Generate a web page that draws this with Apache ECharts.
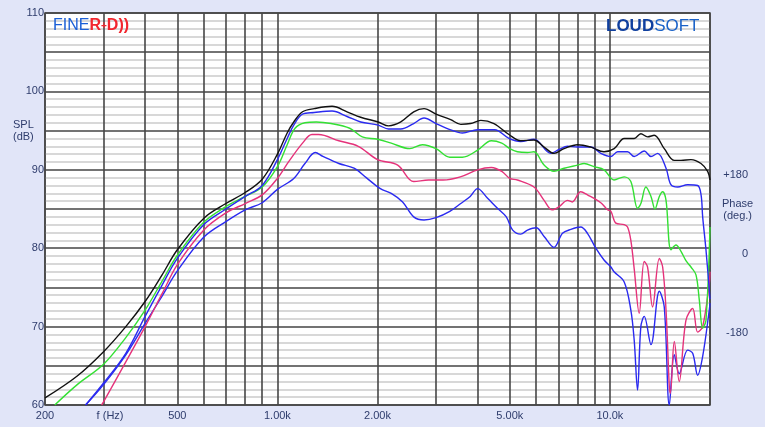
<!DOCTYPE html>
<html>
<head>
<meta charset="utf-8">
<script src="https://cdn.jsdelivr.net/npm/echarts@6/dist/echarts.min.js"></script>
<style>
html,body{margin:0;padding:0;background:#e1e5f8;}
#c{width:765px;height:427px;}
</style>
</head>
<body>
<div id="c"></div>
<script>
// Frequency-axis tick values and labels
const xGridValues = [200,300,400,500,600,700,800,900,1000,2000,3000,4000,5000,6000,7000,8000,9000,10000,20000];
const xLabelValues = [200,300,500,1000,2000,5000,10000];
const xLabelTexts = {200:'200',300:'f (Hz)',500:'500',1000:'1.00k',2000:'2.00k',5000:'5.00k',10000:'10.0k'};
const phaseLabels = {'-180':'-180','0':'0','180':'+180'};

// Series data: [frequency Hz, SPL dB]
const blackCurve = [[200,60.9],[250,63.7],[300,66.8],[350,70.0],[400,73.2],[450,76.6],[500,79.8],[600,83.8],[700,85.7],[800,87.1],[900,88.8],[1000,92.0],[1070,94.7],[1120,96.1],[1190,97.4],[1290,97.8],[1460,98.1],[1620,97.4],[1780,96.7],[2010,96.1],[2160,95.6],[2350,96.1],[2570,97.4],[2760,97.8],[3000,97.1],[3320,96.4],[3560,95.8],[3810,95.9],[4090,96.3],[4480,95.9],[4970,94.5],[5390,93.7],[5910,93.8],[6340,92.9],[6790,92.1],[7280,92.7],[7990,93.2],[8760,92.9],[9600,92.3],[10300,92.7],[11040,94.0],[11830,94.0],[12390,94.6],[12980,94.2],[13590,94.4],[14570,92.7],[15620,91.2],[16360,91.2],[17530,91.3],[18790,90.8],[19680,89.8],[20000,88.7]];

const blueUpper = [[265,60],[300,62.8],[350,66.6],[400,71.3],[450,75.3],[500,78.7],[600,83.0],[700,85.0],[800,86.6],[900,88.0],[1000,91.3],[1070,94.0],[1120,95.7],[1190,97.1],[1290,97.3],[1460,97.5],[1620,96.8],[1780,96.1],[2010,95.7],[2160,95.2],[2350,95.2],[2570,95.9],[2760,96.6],[3000,95.9],[3320,95.1],[3600,94.7],[4000,95.1],[4500,95.1],[4970,94.0],[5390,93.6],[5910,93.9],[6640,92.1],[7030,92.6],[7460,93.0],[7990,92.9],[8760,92.9],[9390,92.1],[10070,91.7],[10550,92.3],[11300,92.3],[11830,91.7],[12680,92.4],[13290,91.7],[13920,92.1],[14750,90.2],[15260,88.1],[15990,87.8],[17130,88.1],[18360,88.0],[18800,86.8],[19010,84.0],[19450,79.8],[19900,74.7],[20000,73.5]];

const greenCurve = [[214,60],[250,62.6],[300,65.2],[350,68.6],[400,72.1],[450,75.8],[500,79.1],[600,83.3],[700,85.3],[800,86.6],[900,87.8],[1000,90.4],[1070,93.2],[1130,95.3],[1210,96.0],[1310,96.1],[1450,95.9],[1650,95.3],[1800,94.2],[2000,93.9],[2200,93.4],[2500,92.7],[2730,93.2],[3000,92.7],[3300,91.6],[3600,91.6],[4000,92.5],[4400,93.7],[4730,93.4],[5000,92.7],[5270,92.3],[5650,92.2],[5910,92.3],[6340,90.6],[6790,89.8],[7280,90.2],[7990,90.6],[8360,90.8],[8960,90.4],[9600,90.0],[10290,88.7],[11040,89.1],[11560,88.5],[12110,85.1],[12390,85.7],[12830,87.8],[13290,86.6],[13660,85.0],[14080,86.6],[14410,87.2],[14750,86.1],[15260,79.8],[15800,80.4],[16360,79.6],[16930,78.4],[17530,77.6],[18150,76.6],[18570,73.4],[19010,69.8],[19450,70.8],[20000,82.7]];

const pinkCurve = [[296,60],[300,60.4],[350,65.5],[400,70.0],[450,74.2],[500,77.9],[600,82.3],[700,84.5],[800,85.7],[900,86.8],[1000,88.9],[1080,91.0],[1190,93.4],[1270,94.5],[1330,94.5],[1530,93.7],[1750,93.0],[2000,91.3],[2300,90.6],[2570,88.5],[2850,88.7],[3150,88.7],[3550,89.1],[4000,90.0],[4400,90.3],[4730,89.8],[5000,88.9],[5270,88.7],[5910,87.8],[6340,86.1],[6700,84.9],[7030,85.3],[7460,86.1],[7700,85.9],[8170,87.2],[8560,86.8],[9390,85.8],[9840,84.9],[10070,84.7],[10420,83.2],[11040,83.0],[11300,82.7],[11560,81.0],[11830,77.4],[12250,71.7],[12680,78.3],[12980,77.6],[13440,72.5],[14080,78.7],[14410,77.6],[14750,72.1],[15090,62.3],[15200,61.5],[15620,68.1],[16160,63.0],[16930,70.8],[17740,72.3],[18360,69.3],[19010,70.0],[19900,75.5],[20000,77.0]];

const blueLower = [[265,60],[300,62.6],[350,66.4],[400,70.4],[450,73.9],[500,77.1],[600,81.4],[700,83.4],[800,84.9],[900,85.8],[1000,87.5],[1120,88.9],[1210,90.8],[1300,92.2],[1370,91.7],[1530,90.8],[1700,90.2],[1850,89.0],[2040,87.6],[2200,87.0],[2380,85.9],[2570,84.0],[2760,83.6],[3000,83.9],[3300,84.7],[3560,85.7],[3800,86.6],[4000,87.6],[4280,86.4],[4590,85.1],[4880,84.0],[5100,82.3],[5390,81.8],[5650,82.3],[6000,82.6],[6340,81.5],[6790,80.1],[7200,81.9],[7630,82.4],[8170,82.7],[8560,81.9],[9070,80.0],[9600,78.5],[10070,77.6],[10290,77.0],[11040,75.7],[11560,72.1],[11830,68.3],[12110,61.9],[12390,70.0],[12680,71.3],[13290,67.7],[14080,74.5],[14570,72.5],[15090,60.0],[15620,66.4],[16160,64.0],[17130,67.0],[17740,66.6],[18360,63.8],[19010,66.2],[19900,72.1],[20000,73.0]];

const chart = echarts.init(document.getElementById('c'), null, {renderer:'canvas'});
const lblColor = '#2e3c6c';
const font = 'Liberation Sans, Arial, sans-serif';
function line(name, data, color){
  return {name, type:'line', data, showSymbol:false, smooth:0.35, xAxisIndex:0, yAxisIndex:0,
    lineStyle:{color, width:1.4}, emphasis:{disabled:true}, animation:false};
}
chart.setOption({
  backgroundColor:'#e1e5f8',
  animation:false,
  grid:{left:45, right:55, top:13, bottom:22, show:true, backgroundColor:'#ffffff', borderColor:'#444', borderWidth:1.5},
  xAxis:{type:'log', logBase:10, min:200, max:20000,
    axisLine:{show:false},
    axisTick:{show:false, customValues:xGridValues},
    splitLine:{show:true, lineStyle:{color:'#474747', width:1.6}},
    axisLabel:{customValues:xLabelValues, color:lblColor, fontSize:11, fontFamily:font, margin:5,
      formatter:v=>{const r=Math.round(v); return r===300?'{f|f (Hz)}':(xLabelTexts[r]||'');},
      rich:{f:{color:lblColor, fontSize:11, fontFamily:font, padding:[0,0,0,13]}}}
  },
  yAxis:[{type:'value', min:60, max:110, interval:5,
    axisLine:{show:false}, axisTick:{show:false},
    splitLine:{show:true, lineStyle:{color:'#454545', width:1.6}},
    minorTick:{show:false, splitNumber:5},
    minorSplitLine:{show:true, lineStyle:{color:'#cbcbcb', width:1.5}},
    axisLabel:{color:lblColor, fontSize:11, fontFamily:font, margin:1,
      formatter:v=>(v%10===0?String(v):'')}
  },{type:'value', position:'right', min:-344, max:548, interval:4,
    axisLine:{show:false}, axisTick:{show:false}, splitLine:{show:false},
    axisLabel:{color:lblColor, fontSize:11, fontFamily:font, margin:38, align:'right',
      formatter:v=>(phaseLabels[String(Math.round(v))]||'')}
  }],
  graphic:[
    {type:'text', left:13, top:119, style:{text:'SPL\n(dB)', fill:lblColor, font:'11px '+font, textAlign:'center', lineHeight:12}},
    {type:'text', left:722, top:198, style:{text:'Phase\n(deg.)', fill:lblColor, font:'11px '+font, textAlign:'center', lineHeight:12}},
    {type:'text', left:53, top:18, z:100, style:{text:'{a|FINE}{b|R}{c|+}{b|D))}', rich:{
      a:{fill:'#1b5fd6', fontSize:16, fontFamily:font},
      b:{fill:'#f2262e', fontSize:16, fontFamily:font, fontWeight:'bold'},
      c:{fill:'#f2262e', fontSize:10, fontFamily:font, fontWeight:'bold'}}}},
    {type:'text', left:606, top:18, z:100, style:{text:'{a|LOUD}{b|SOFT}', rich:{
      a:{fill:'#0f3f9e', fontSize:17, fontFamily:font, fontWeight:'bold'},
      b:{fill:'#1a62c8', fontSize:17, fontFamily:font}}}}
  ],
  series:[
    line('blueLower', blueLower, '#2a2af0'),
    line('pink', pinkCurve, '#e5327a'),
    line('green', greenCurve, '#33e033'),
    line('blueUpper', blueUpper, '#2a2af0'),
    line('black', blackCurve, '#111111')
  ]
});
</script>
</body>
</html>
